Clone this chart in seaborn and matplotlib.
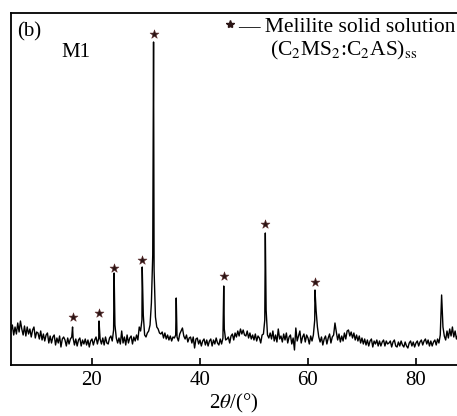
import numpy as np
import pandas as pd
import matplotlib
matplotlib.use("Agg")
import matplotlib.pyplot as plt
import seaborn as sns
from matplotlib.lines import Line2D

# ---- data (intensity in arbitrary units) ----
theta_start = 5.0
theta_step = 0.25
baseline_intensity = [
    34, 40, 30, 38, 31, 42, 33, 44, 36, 30, 39, 29, 38, 31, 36, 28, 35, 38, 27, 33,   # 5
    32, 26, 34, 25, 31, 24, 30, 32, 22, 29, 22, 28, 30, 20, 27, 22, 29, 18, 26, 28,   # 10
    25, 19, 27, 21, 26, 28, 27, 20, 26, 19, 25, 27, 19, 25, 21, 26, 20, 25, 18, 24,   # 15
    26, 20, 25, 28, 21, 27, 26, 21, 27, 20, 28, 22, 21, 27, 29, 24, 35, 40, 27, 22,   # 20
    27, 21, 34, 22, 28, 20, 30, 22, 27, 29, 21, 28, 24, 30, 25, 38, 34, 45, 50, 30,   # 25
    28, 32, 34, 40, 62, 110, 95, 48, 38, 36, 32, 31, 33, 27, 32, 26, 30, 25, 29, 24,  # 30
    28, 27, 30, 28, 24, 31, 34, 37, 29, 26, 30, 23, 27, 28, 22, 28, 17, 26, 27, 21,   # 35
    25, 19, 24, 26, 20, 25, 19, 24, 26, 19, 25, 21, 27, 22, 20, 26, 21, 27, 36, 25,   # 40
    26, 28, 22, 29, 31, 25, 32, 28, 34, 29, 36, 31, 35, 30, 29, 34, 27, 32, 26, 30,   # 45
    25, 31, 24, 29, 27, 22, 30, 31, 45, 55, 30, 27, 32, 26, 34, 24, 30, 23, 36, 26,   # 50
    29, 23, 31, 25, 32, 22, 28, 30, 21, 27, 15, 37, 24, 29, 34, 22, 28, 31, 23, 30,   # 55
    27, 21, 29, 24, 30, 45, 55, 38, 28, 23, 28, 20, 26, 29, 21, 27, 31, 22, 28, 30,   # 60
    42, 33, 25, 31, 23, 29, 24, 32, 26, 34, 35, 29, 33, 27, 32, 25, 30, 24, 29, 22,   # 65
    27, 21, 26, 20, 25, 19, 24, 26, 18, 24, 21, 25, 19, 24, 19, 23, 25, 19, 24, 21,   # 70
    22, 24, 18, 23, 25, 19, 18, 23, 19, 24, 20, 18, 23, 19, 17, 22, 24, 19, 23, 18,   # 75
    22, 24, 19, 23, 25, 20, 24, 26, 21, 25, 19, 24, 19, 23, 25, 20, 26, 22, 30, 70,   # 80
    38, 29, 25, 34, 27, 36, 29, 38, 28, 34, 26, 30,                                   # 85
]
peak_theta = [16.4, 21.3, 24.1, 29.3, 31.4, 35.6, 44.4, 52.1, 61.3]
peak_intensity = [38, 44, 92, 98, 323, 67, 79, 132, 75]

star_theta = [16.4, 21.3, 24.1, 29.3, 31.4, 44.4, 52.1, 61.3]
star_intensity = [48, 52, 97, 105, 331, 89, 141, 83]

x_ticks = [20, 40, 60, 80]

# ---- assemble ----
base_theta = theta_start + theta_step * np.arange(len(baseline_intensity))
df = pd.DataFrame({
    "theta": np.concatenate([base_theta, peak_theta]),
    "intensity": np.concatenate([baseline_intensity, peak_intensity]),
}).sort_values("theta").reset_index(drop=True)
stars = pd.DataFrame({"theta": star_theta, "intensity": star_intensity})

sns.set_theme(style="white")
plt.rcParams["font.family"] = ["Liberation Serif", "DejaVu Serif"]
plt.rcParams["mathtext.fontset"] = "stix"
plt.rcParams["text.color"] = "black"

fig = plt.figure(figsize=(4.57, 4.16), dpi=100)
ax = fig.add_axes([11 / 457, 51 / 416, 446 / 457, 352 / 416])

sns.lineplot(data=df, x="theta", y="intensity", ax=ax, color="black",
             linewidth=1.0, estimator=None, sort=True)
sns.scatterplot(data=stars, x="theta", y="intensity", ax=ax, marker="*",
                s=45, color="#2a1414", edgecolor="#5a2a2a", linewidth=0.4,
                zorder=5)

ax.set_xlim(5.0, 87.6)
ax.set_ylim(0, 352)
ax.set_xticks(x_ticks)
ax.set_xticklabels([str(t) for t in x_ticks])
ax.set_yticks([])
ax.tick_params(axis="x", direction="in", length=5, width=1.2, pad=4.5,
               labelsize=15, colors="black", bottom=True)
ax.set_xlabel("2$\\theta$/(°)", fontsize=15, labelpad=1.0, color="black")
ax.set_ylabel("")

for side in ["left", "bottom", "top"]:
    ax.spines[side].set_visible(True)
    ax.spines[side].set_color("black")
    ax.spines[side].set_linewidth(1.3)
ax.spines["right"].set_visible(False)

ax.text(0.013, 0.975, "(b)", transform=ax.transAxes, fontsize=15,
        va="top", ha="left", color="black")
ax.text(0.113, 0.915, "M1", transform=ax.transAxes, fontsize=15,
        va="top", ha="left", color="black")

handle = Line2D([], [], marker="*", linestyle="none", color="#2a1414",
                markersize=6)
leg = ax.legend([handle], ["— Melilite solid solution"], loc="upper right",
                bbox_to_anchor=(0.997, 0.99), frameon=False, fontsize=15.5,
                handlelength=0.6, handletextpad=0.1, borderpad=0.0,
                borderaxespad=0.0, labelcolor="black")
ax.text(0.745, 0.893, "(C$_2$MS$_2$:C$_2$AS)$_{\\mathrm{ss}}$",
        transform=ax.transAxes, fontsize=15.5, ha="center", va="center",
        color="black")

fig.savefig("out.png", dpi=100)
